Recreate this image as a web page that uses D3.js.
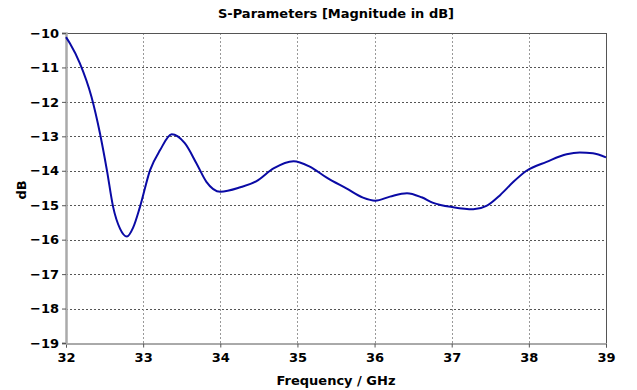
<!DOCTYPE html>
<html><head><meta charset="utf-8">
<script src="https://cdn.jsdelivr.net/npm/d3@7"></script>
<style>
html,body{margin:0;padding:0;background:#fff;}
text{font-family:"DejaVu Sans",sans-serif;font-weight:bold;}
</style></head>
<body><svg id="c" width="637" height="390"></svg>
<script>
const freqGHz = [32.0,32.05,32.18,32.33,32.44,32.53,32.61,32.70,32.79,32.87,32.96,33.09,33.22,33.37,33.54,33.69,33.82,34.0,34.26,34.47,34.69,34.95,35.16,35.38,35.64,35.85,36.01,36.20,36.42,36.61,36.76,37.02,37.28,37.45,37.63,37.80,37.97,38.23,38.49,38.66,38.83,39.0];
const s11dB   = [-10.12,-10.3,-10.88,-11.85,-12.91,-13.98,-15.04,-15.68,-15.91,-15.65,-15.04,-13.98,-13.40,-12.94,-13.2,-13.78,-14.32,-14.61,-14.48,-14.3,-13.93,-13.72,-13.88,-14.2,-14.52,-14.78,-14.87,-14.75,-14.65,-14.77,-14.93,-15.06,-15.12,-15.02,-14.70,-14.32,-14.0,-13.74,-13.52,-13.47,-13.49,-13.61];
const xTicks = [32,33,34,35,36,37,38,39];
const yTicks = [-10,-11,-12,-13,-14,-15,-16,-17,-18,-19];
const titleText = "S-Parameters [Magnitude in dB]";
const xLabel = "Frequency / GHz";
const yLabel = "dB";

const FONT = '"DejaVu Sans",sans-serif';
const svg = d3.select("#c");
const m = {l:66, r:606, t:33, b:343};
const x = d3.scaleLinear().domain([32,39]).range([m.l,m.r]);
const y = d3.scaleLinear().domain([-19,-10]).range([m.b,m.t]);

// grid
svg.append("g").selectAll("line").data(yTicks.filter(d=>d>-19 && d<-10)).join("line")
  .attr("x1",m.l).attr("x2",m.r).attr("y1",d=>Math.round(y(d))+0.5).attr("y2",d=>Math.round(y(d))+0.5)
  .attr("stroke","#555").attr("stroke-width",1).attr("stroke-dasharray","2,2");
svg.append("g").selectAll("line").data(xTicks.filter(d=>d>32 && d<39)).join("line")
  .attr("x1",d=>Math.round(x(d))+0.5).attr("x2",d=>Math.round(x(d))+0.5).attr("y1",m.t).attr("y2",m.b)
  .attr("stroke","#999").attr("stroke-width",1).attr("stroke-dasharray","2,2");

// frame
svg.append("line").attr("x1",m.l).attr("x2",m.r).attr("y1",m.t+0.5).attr("y2",m.t+0.5).attr("stroke","#555");
svg.append("line").attr("x1",m.r+0.5).attr("x2",m.r+0.5).attr("y1",m.t).attr("y2",m.b).attr("stroke","#555");

// axes
const xAxis = d3.axisBottom(x).tickValues(xTicks).tickSize(4).tickFormat(d3.format("d"));
const gx = svg.append("g").attr("transform",`translate(0,${m.b+0.5})`).call(xAxis);
gx.select(".domain").attr("stroke","#555");
gx.selectAll(".tick line").attr("stroke","#555");
gx.selectAll("text").attr("fill","#000").attr("font-size","13px").attr("dy","0.85em")
  .attr("font-family",FONT).attr("font-weight","bold");

const yAxis = d3.axisLeft(y).tickValues(yTicks).tickSize(4).tickFormat(d3.format("d"));
const gy = svg.append("g").attr("transform",`translate(${m.l},0)`).call(yAxis);
gy.select(".domain").attr("stroke","#aaa").attr("stroke-width",2.5);
gy.selectAll(".tick line").attr("stroke","#555");
gy.selectAll("text").attr("fill","#000").attr("font-size","13px").attr("x",-7)
  .attr("font-family",FONT).attr("font-weight","bold");

// curve
const line = d3.line().x((d,i)=>x(freqGHz[i])).y(d=>y(d)).curve(d3.curveMonotoneX);
svg.append("path").datum(s11dB).attr("d",line).attr("fill","none")
  .attr("stroke","#0a0aa5").attr("stroke-width",2);

// titles
svg.append("text").attr("x",336).attr("y",18).attr("text-anchor","middle").attr("font-size","13px").text(titleText);
svg.append("text").attr("x",336).attr("y",385).attr("text-anchor","middle").attr("font-size","13px").text(xLabel);
svg.append("text").attr("transform","translate(26,190) rotate(-90)").attr("text-anchor","middle").attr("font-size","13px").text(yLabel);
</script></body></html>
